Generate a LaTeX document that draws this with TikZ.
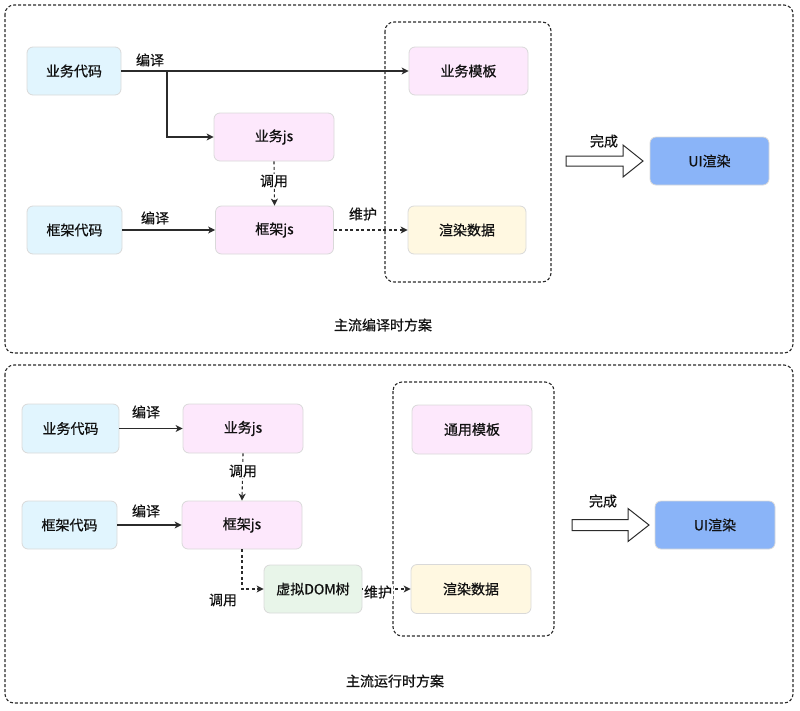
\documentclass[tikz,border=0pt]{standalone}
\usepackage{fontspec}
\setmainfont{Noto Sans CJK SC}[BoldFont={Noto Sans CJK SC}, BoldFeatures={FakeBold=0.6}]
\usetikzlibrary{arrows.meta}
\definecolor{cblue}{HTML}{E1F5FE}
\definecolor{cpink}{HTML}{FDE8FC}
\definecolor{cyel}{HTML}{FFF8E1}
\definecolor{cgreen}{HTML}{E8F5E9}
\definecolor{cui}{HTML}{8AB4F8}
\definecolor{cedge}{HTML}{D9D9D9}
\definecolor{cline}{HTML}{2B2B2B}
\definecolor{ctext}{HTML}{111111}
\begin{document}
\begin{tikzpicture}[x=1pt,y=-1pt,
  every node/.style={font=\fontsize{14}{16}\selectfont\bfseries, text=ctext},
  bx/.style={draw=cedge, line width=0.8pt, rounded corners=6pt, minimum height=48pt, inner sep=0pt},
  frame/.style={draw=cline, line width=1.1pt, dash pattern=on 3pt off 2pt, rounded corners=9pt},
  arr/.style={draw=cline, line width=1.1pt, -{Stealth[length=7pt,width=7pt,inset=2pt]}},
  dsh/.style={dash pattern=on 3pt off 2.5pt},
  bigarr/.style={draw=cline, line width=1pt, fill=white},
  lbl/.style={inner sep=1pt}]
\useasboundingbox (0,0) rectangle (800,710);

% ---------- top section ----------
\draw[frame] (5,5) rectangle (793,353);
\draw[frame] (385,22) rectangle (551,282);

\node[bx, fill=cblue, minimum width=94pt] (bc1) at (74,71) {业务代码};
\node[bx, fill=cpink, minimum width=120pt] (bjs1) at (274,137) {业务js};
\node[bx, fill=cblue, minimum width=95pt] (fc1) at (74.5,230) {框架代码};
\node[bx, fill=cpink, minimum width=118pt] (fjs1) at (274.5,230) {框架js};
\node[bx, fill=cpink, minimum width=119pt] (bt1) at (468.5,71) {业务模板};
\node[bx, fill=cyel, minimum width=118pt] (rd1) at (467,230) {渲染数据};
\node[bx, fill=cui, minimum width=119pt] (ui1) at (709.5,161) {UI渲染};

\coordinate (br1) at (167,71);
\draw[arr] (bc1.east) -- (bt1.west);
\draw[arr] (br1) |- (bjs1.west);
\draw[arr, dsh] (bjs1.south) -- (fjs1.north);
\draw[arr] (fc1.east) -- (fjs1.west);
\draw[arr, dsh] (fjs1.east) -- (rd1.west);

\node[lbl] (l1) at (150,60) {编译};
\node[lbl, fill=white] (l2) at (274,181) {调用};
\node[lbl] (l3) at (155,218) {编译};
\node[lbl] (l4) at (363,214) {维护};
\node[lbl] (l5) at (604,141) {完成};
\node[lbl] (t1) at (383,325) {主流编译时方案};

\draw[bigarr, shift={(566,161)}] (0,-5) -- (57,-5) -- (57,-16) -- (77,0) -- (57,16) -- (57,5) -- (0,5) -- cycle;

% ---------- bottom section ----------
\draw[frame] (5,365) rectangle (793,703);
\draw[frame] (393,382) rectangle (554,636);

\node[bx, fill=cblue, minimum width=97pt, minimum height=49pt] (bc2) at (70.5,428.5) {业务代码};
\node[bx, fill=cpink, minimum width=120pt, minimum height=49pt] (bjs2) at (243,428.5) {业务js};
\node[bx, fill=cblue, minimum width=95pt] (fc2) at (69.5,525) {框架代码};
\node[bx, fill=cpink, minimum width=120pt] (fjs2) at (242,525) {框架js};
\node[bx, fill=cgreen, minimum width=98pt] (vd2) at (313,589) {虚拟DOM树};
\node[bx, fill=cpink, minimum width=120pt, minimum height=49pt] (ty2) at (472,429.5) {通用模板};
\node[bx, fill=cyel, minimum width=120pt, minimum height=49pt] (rd2) at (471,589) {渲染数据};
\node[bx, fill=cui, minimum width=120pt] (ui2) at (715,525) {UI渲染};

\draw[arr] (bc2.east) -- (bjs2.west);
\draw[arr] (fc2.east) -- (fjs2.west);
\draw[arr, dsh] (bjs2.south) -- (fjs2.north);
\draw[arr, dsh] (fjs2.south) |- (vd2.west);
\draw[arr, dsh] (vd2.east) -- (rd2.west);

\node[lbl] (m1) at (146,412) {编译};
\node[lbl, fill=white] (m2) at (243,471) {调用};
\node[lbl] (m3) at (146,511) {编译};
\node[lbl] (m4) at (223,600) {调用};
\node[lbl, fill=white] (m5) at (378,592) {维护};
\node[lbl] (m6) at (603,501) {完成};
\node[lbl] (t2) at (395,681) {主流运行时方案};

\draw[bigarr, shift={(572,525)}] (0,-5.5) -- (56,-5.5) -- (56,-16.5) -- (77,0) -- (56,16.5) -- (56,5.5) -- (0,5.5) -- cycle;
\end{tikzpicture}
\end{document}
